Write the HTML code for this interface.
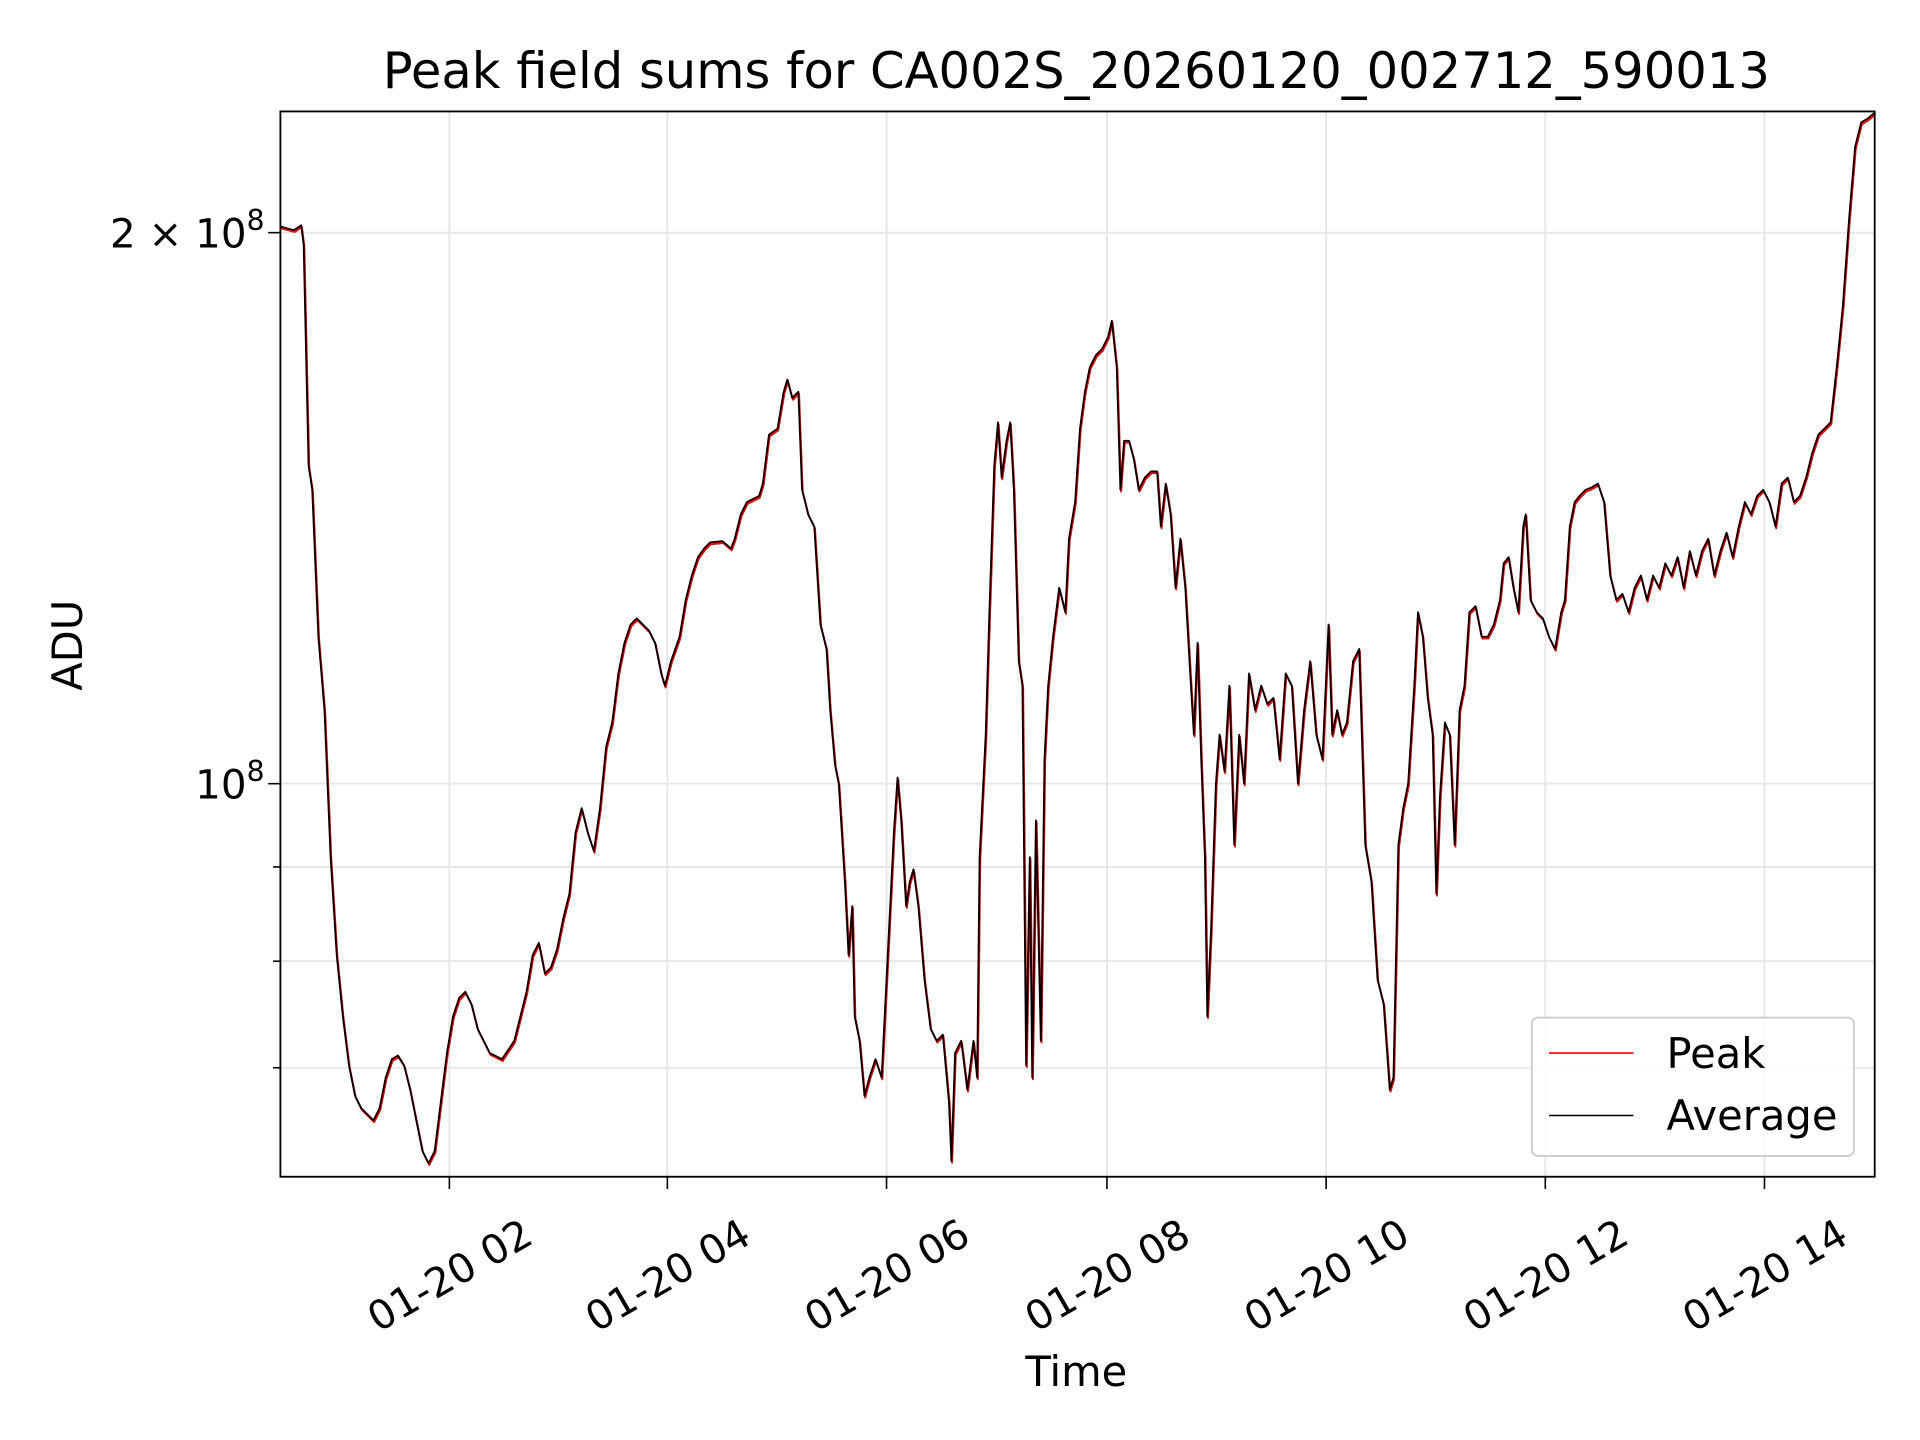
<!DOCTYPE html>
<html><head><style>html,body{margin:0;padding:0;background:#fff}svg{display:block}text{font-family:"DejaVu Sans","Liberation Sans",sans-serif;fill:#000}</style></head>
<body>
<svg width="1920" height="1440" viewBox="0 0 1568 1176" xmlns="http://www.w3.org/2000/svg">
<rect width="1568" height="1176" fill="#fff"/>
<g stroke="#e6e6e6" stroke-width="1.5">
<line x1="367" y1="91" x2="367" y2="961"/><line x1="545" y1="91" x2="545" y2="961"/><line x1="724" y1="91" x2="724" y2="961"/><line x1="904" y1="91" x2="904" y2="961"/><line x1="1083" y1="91" x2="1083" y2="961"/><line x1="1262" y1="91" x2="1262" y2="961"/><line x1="1441" y1="91" x2="1441" y2="961"/>
<line x1="229" y1="190" x2="1531" y2="190"/><line x1="229" y1="640" x2="1531" y2="640"/><line x1="229" y1="708" x2="1531" y2="708"/><line x1="229" y1="785" x2="1531" y2="785"/><line x1="229" y1="872" x2="1531" y2="872"/>
</g>
<g fill="none" stroke-width="1.5" stroke-linejoin="round">
<polyline stroke="#f00" transform="translate(0.6,1.5)" points="229,185 240,188 246,184 248,200 252,380 255,400 260,520 265,580 270,700 275,780 280,830 285,870 290,895 295,905 300,910 305,915 310,905 315,880 320,865 325,862 330,870 335,890 340,915 345,940 350,950 355,940 360,900 365,860 370,830 375,815 380,810 385,820 390,840 395,850 400,860 410,865 420,850 425,830 430,810 435,780 440,770 445,795 450,790 455,775 460,750 465,730 470,680 475,660 480,680 485,695 490,660 495,610 500,590 505,550 510,525 515,510 520,505 525,510 530,515 535,525 540,550 543,560 548,540 555,520 560,490 565,470 570,455 575,448 580,443 590,442 597,448 600,440 605,420 610,410 620,405 623,395 628,355 635,350 640,320 643,310 647,325 652,320 655,400 660,420 665,430 670,510 675,530 678,580 682,625 685,640 690,720 693,780 696,740 698,830 702,850 706,895 710,880 715,865 720,880 723,820 726,760 730,680 733,635 736,670 740,740 743,720 746,710 750,740 755,800 760,840 765,850 770,845 775,900 777,948 780,860 785,850 790,890 795,850 798,880 800,700 805,600 808,500 812,380 815,345 818,390 822,360 825,345 828,400 832,540 835,560 838,870 841,700 843,880 846,670 850,850 853,620 856,560 860,520 865,480 870,500 873,440 878,410 882,350 886,320 890,300 895,290 900,285 905,275 908,262 912,300 915,400 918,360 922,360 926,375 930,400 935,390 940,385 945,385 948,430 952,395 956,420 960,480 964,440 968,480 972,550 975,600 978,525 981,620 984,700 986,830 989,760 993,640 996,600 1000,630 1004,560 1008,690 1012,600 1016,640 1020,550 1025,580 1030,560 1035,575 1040,570 1045,620 1050,550 1055,560 1060,640 1065,580 1070,540 1075,600 1080,620 1085,510 1088,600 1092,580 1096,600 1100,590 1105,540 1110,530 1115,690 1120,720 1125,800 1130,820 1135,890 1138,880 1142,690 1146,660 1150,640 1155,560 1158,500 1162,520 1166,570 1170,600 1173,730 1176,650 1180,590 1184,600 1188,690 1192,580 1196,560 1200,500 1205,495 1210,520 1215,520 1220,510 1225,490 1228,460 1232,455 1236,480 1240,500 1244,430 1246,420 1250,490 1255,500 1260,505 1265,520 1270,530 1275,500 1278,490 1282,430 1286,410 1290,405 1295,400 1300,398 1305,395 1310,410 1315,470 1320,490 1325,485 1330,500 1335,480 1340,470 1345,490 1350,470 1355,480 1360,460 1365,470 1370,455 1375,480 1380,450 1385,470 1390,450 1395,440 1400,470 1405,450 1410,435 1415,455 1420,430 1425,410 1430,420 1435,405 1440,400 1445,410 1450,430 1455,395 1460,390 1465,410 1470,405 1475,390 1480,370 1485,355 1490,350 1495,345 1500,300 1505,250 1510,180 1515,120 1520,100 1525,97 1531,92"/>
<polyline stroke="#000" points="229,185 240,188 246,184 248,200 252,380 255,400 260,520 265,580 270,700 275,780 280,830 285,870 290,895 295,905 300,910 305,915 310,905 315,880 320,865 325,862 330,870 335,890 340,915 345,940 350,950 355,940 360,900 365,860 370,830 375,815 380,810 385,820 390,840 395,850 400,860 410,865 420,850 425,830 430,810 435,780 440,770 445,795 450,790 455,775 460,750 465,730 470,680 475,660 480,680 485,695 490,660 495,610 500,590 505,550 510,525 515,510 520,505 525,510 530,515 535,525 540,550 543,560 548,540 555,520 560,490 565,470 570,455 575,448 580,443 590,442 597,448 600,440 605,420 610,410 620,405 623,395 628,355 635,350 640,320 643,310 647,325 652,320 655,400 660,420 665,430 670,510 675,530 678,580 682,625 685,640 690,720 693,780 696,740 698,830 702,850 706,895 710,880 715,865 720,880 723,820 726,760 730,680 733,635 736,670 740,740 743,720 746,710 750,740 755,800 760,840 765,850 770,845 775,900 777,948 780,860 785,850 790,890 795,850 798,880 800,700 805,600 808,500 812,380 815,345 818,390 822,360 825,345 828,400 832,540 835,560 838,870 841,700 843,880 846,670 850,850 853,620 856,560 860,520 865,480 870,500 873,440 878,410 882,350 886,320 890,300 895,290 900,285 905,275 908,262 912,300 915,400 918,360 922,360 926,375 930,400 935,390 940,385 945,385 948,430 952,395 956,420 960,480 964,440 968,480 972,550 975,600 978,525 981,620 984,700 986,830 989,760 993,640 996,600 1000,630 1004,560 1008,690 1012,600 1016,640 1020,550 1025,580 1030,560 1035,575 1040,570 1045,620 1050,550 1055,560 1060,640 1065,580 1070,540 1075,600 1080,620 1085,510 1088,600 1092,580 1096,600 1100,590 1105,540 1110,530 1115,690 1120,720 1125,800 1130,820 1135,890 1138,880 1142,690 1146,660 1150,640 1155,560 1158,500 1162,520 1166,570 1170,600 1173,730 1176,650 1180,590 1184,600 1188,690 1192,580 1196,560 1200,500 1205,495 1210,520 1215,520 1220,510 1225,490 1228,460 1232,455 1236,480 1240,500 1244,430 1246,420 1250,490 1255,500 1260,505 1265,520 1270,530 1275,500 1278,490 1282,430 1286,410 1290,405 1295,400 1300,398 1305,395 1310,410 1315,470 1320,490 1325,485 1330,500 1335,480 1340,470 1345,490 1350,470 1355,480 1360,460 1365,470 1370,455 1375,480 1380,450 1385,470 1390,450 1395,440 1400,470 1405,450 1410,435 1415,455 1420,430 1425,410 1430,420 1435,405 1440,400 1445,410 1450,430 1455,395 1460,390 1465,410 1470,405 1475,390 1480,370 1485,355 1490,350 1495,345 1500,300 1505,250 1510,180 1515,120 1520,100 1525,97 1531,92"/>
</g>
<rect x="229" y="91" width="1302" height="870" fill="none" stroke="#000" stroke-width="1.5"/>
<g stroke="#000" stroke-width="1.3">
<line x1="367" y1="961" x2="367" y2="971"/><line x1="545" y1="961" x2="545" y2="971"/><line x1="724" y1="961" x2="724" y2="971"/><line x1="904" y1="961" x2="904" y2="971"/><line x1="1083" y1="961" x2="1083" y2="971"/><line x1="1262" y1="961" x2="1262" y2="971"/><line x1="1441" y1="961" x2="1441" y2="971"/>
<line x1="219" y1="190" x2="229" y2="190"/><line x1="219" y1="640" x2="229" y2="640"/><line x1="223" y1="708" x2="229" y2="708"/><line x1="223" y1="785" x2="229" y2="785"/><line x1="223" y1="872" x2="229" y2="872"/>
</g>
<g font-size="33" text-anchor="middle">
<text transform="translate(367,1041) rotate(-30)" y="12">01-20 02</text>
<text transform="translate(545,1041) rotate(-30)" y="12">01-20 04</text>
<text transform="translate(724,1041) rotate(-30)" y="12">01-20 06</text>
<text transform="translate(904,1041) rotate(-30)" y="12">01-20 08</text>
<text transform="translate(1083,1041) rotate(-30)" y="12">01-20 10</text>
<text transform="translate(1262,1041) rotate(-30)" y="12">01-20 12</text>
<text transform="translate(1441,1041) rotate(-30)" y="12">01-20 14</text>
</g>
<g font-size="33" text-anchor="end">
<text x="216" y="202">2 × 10<tspan font-size="23" dy="-14">8</tspan></text>
<text x="216" y="652">10<tspan font-size="23" dy="-14">8</tspan></text>
</g>
<text x="879" y="1132" font-size="34" text-anchor="middle">Time</text>
<text transform="translate(67,527) rotate(-90)" font-size="34" text-anchor="middle">ADU</text>
<text x="879" y="72" font-size="40.5" text-anchor="middle">Peak field sums for CA002S_20260120_002712_590013</text>
<rect x="1251" y="831" width="263" height="113" rx="5" fill="#fff" fill-opacity="0.8" stroke="#ccc" stroke-width="1.5"/>
<line x1="1265" y1="860" x2="1334" y2="860" stroke="#f00" stroke-width="1.3"/>
<line x1="1265" y1="911" x2="1334" y2="911" stroke="#000" stroke-width="1.3"/>
<text x="1361" y="872" font-size="34">Peak</text>
<text x="1361" y="923" font-size="34">Average</text>
</svg>
</body></html>
